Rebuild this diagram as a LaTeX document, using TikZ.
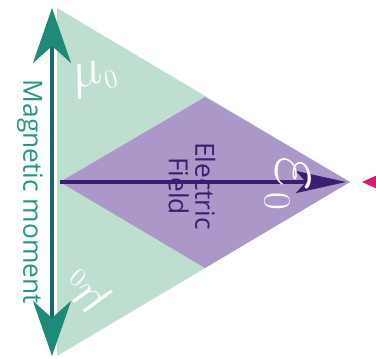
\RequirePackage{fix-cm}
\documentclass[tikz,border=0pt]{standalone}
\usepackage{fontspec}
\setsansfont{Open Sans}
\usetikzlibrary{arrows.meta,positioning,calc}
\definecolor{mintfill}{RGB}{190,223,208}
\definecolor{lilacfill}{RGB}{171,152,200}
\definecolor{tealarrow}{RGB}{30,138,120}
\definecolor{tealshaft}{RGB}{28,104,112}
\definecolor{tealtext}{RGB}{40,150,130}
\definecolor{inkpurple}{RGB}{58,30,112}
\definecolor{hotpink}{RGB}{225,25,110}
\tikzset{
  tribox/.style={fill=mintfill, draw=none},
  rhombox/.style={fill=lilacfill, draw=none},
  magline/.style={{Stealth[length=11mm,width=7.6mm,inset=3.4mm,color=tealarrow]}-{Stealth[length=11mm,width=7.6mm,inset=3.4mm,color=tealarrow]}, line width=2.2pt, draw=tealshaft},
  eline/.style={-{Stealth[length=10mm,width=4.4mm,inset=2mm]}, line width=2.2pt, draw=inkpurple},
  pinkline/.style={-{Stealth[length=5mm,width=4.5mm,inset=1.5mm]}, line width=1.5pt, draw=hotpink},
  sidetext/.style={font=\sffamily\fontsize{15}{18}\selectfont, align=center, inner sep=0pt},
  symtext/.style={text=white, inner sep=0pt}
}

\begin{document}
\begin{tikzpicture}[x=0.02cm, y=-0.02cm]
  \path[use as bounding box, clip] (0,0) rectangle (376,359);
  \coordinate (tt) at (57,8);
  \coordinate (tb) at (57,356);
  \coordinate (tr) at (350,182);
  \coordinate (rl) at (60,182);
  \coordinate (rt) at (205,97);
  \coordinate (rb) at (205,268);
  \fill[tribox] (tt) -- (tr) -- (tb) -- cycle;
  \fill[rhombox] (rl) -- (rt) -- (tr) -- (rb) -- cycle;
  \coordinate (mtop) at (52,8);
  \coordinate (mbot) at (52,356);
  \coordinate (etip) at (346,182);
  \coordinate (ptail) at (400,182);
  \coordinate (ptip) at (362,182);
  \draw[magline] (mbot) -- (mtop);
  \draw[eline] (rl) -- (etip);
  \draw[pinkline] (ptail) -- (ptip);
  \node[sidetext, text=tealtext, rotate=-90] (mag) at (30,192) {Magnetic moment};
  \node[sidetext, text=inkpurple, rotate=-90] (efield) at (192,186) {Electric\\[-3pt]Field};
  \node[symtext, rotate=15, font=\fontsize{30}{32}\selectfont] (mutop) at (95,78) {$\mu_{\scriptscriptstyle 0}$};
  \node[symtext, rotate=140, font=\fontsize{30}{32}\selectfont] (mubot) at (86,292) {$\mu_{\scriptscriptstyle 0}$};
  \node[symtext, rotate=-90, font=\fontsize{44}{46}\selectfont] (eps) at (287,184) {$\varepsilon_{\scriptscriptstyle 0}$};
\end{tikzpicture}
\end{document}
